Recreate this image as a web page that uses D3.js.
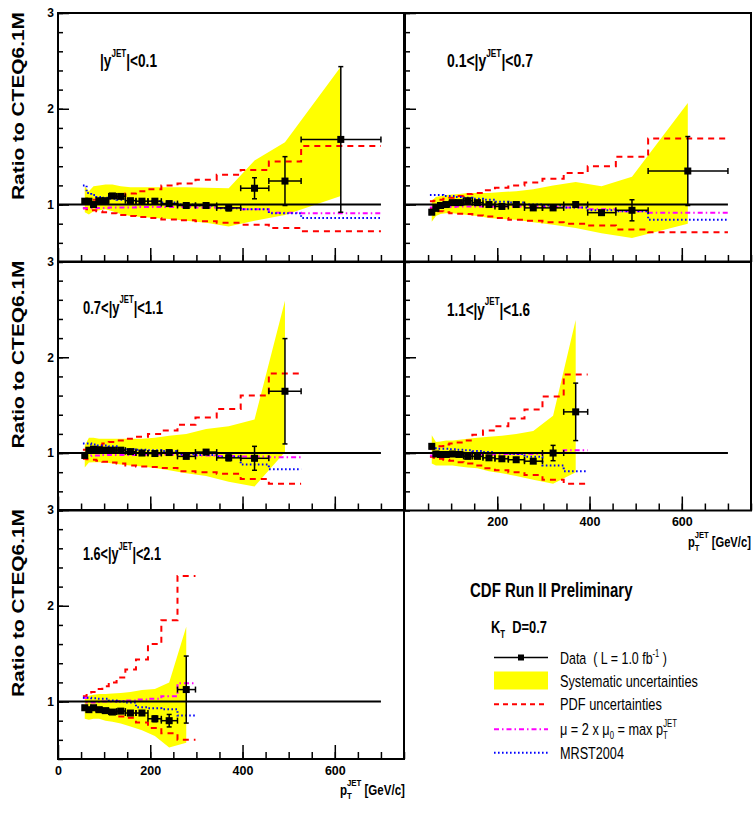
<!DOCTYPE html>
<html><head><meta charset="utf-8">
<script src="https://cdn.jsdelivr.net/npm/d3@7"></script>
<style>body{margin:0;background:#fff}</style>
</head><body>
<svg id="c" width="753" height="813"></svg>
<script>
// ---------- DATA ----------
const binEdges=[54,62,72,83,96,110,127,146,169,195,224,259,298,344,396,457,527,700];
const binCenters=[58,67,77,89,103,118,136,157,182,210,241,278,321,370,426,492,613];
const xTickMajor=[0,200,400,600];
const yTickMajor=[1,2,3];

// |y|<0.1
const p1Ratio=[1.035,1.035,1.0,1.04,1.04,1.09,1.085,1.04,1.035,1.035,1.01,0.99,0.99,0.965,1.17,1.245,1.68];
const p1Stat=[0.006,0.006,0.006,0.006,0.006,0.006,0.007,0.008,0.009,0.01,0.012,0.015,0.02,0.03,0.11,0.255,0.76];
const p1SysUp=[1.19,1.14,1.19,1.20,1.21,1.21,1.19,1.18,1.18,1.18,1.18,1.18,1.175,1.17,1.46,1.65,2.44];
const p1SysLo=[0.92,0.895,0.93,0.94,0.95,0.93,0.90,0.88,0.87,0.86,0.85,0.83,0.81,0.77,0.83,0.89,1.09];
const p1PdfUp=[1.04,1.04,1.05,1.05,1.06,1.07,1.09,1.115,1.14,1.16,1.20,1.22,1.26,1.31,1.36,1.45,1.61];
const p1PdfLo=[0.96,0.95,0.94,0.93,0.92,0.91,0.89,0.88,0.87,0.86,0.845,0.835,0.825,0.81,0.79,0.755,0.72];
const p1Mu=[0.96,0.96,0.96,0.965,0.965,0.97,0.97,0.97,0.975,0.975,0.975,0.975,0.97,0.965,0.95,0.915,0.91];
const p1Mrst=[1.20,1.12,1.10,1.08,1.07,1.06,1.05,1.05,1.04,1.035,1.02,1.0,0.99,0.96,0.95,0.91,0.86];

// 0.1<|y|<0.7
const p2Ratio=[0.92,0.96,0.99,1.0,1.02,1.02,1.04,1.02,1.0,0.98,1.0,0.965,0.965,1.0,0.915,0.94,1.35];
const p2Stat=[0.006,0.006,0.006,0.006,0.006,0.006,0.007,0.008,0.009,0.01,0.012,0.015,0.02,0.025,0.02,0.11,0.36];
const p2SysUp=[1.04,1.08,1.09,1.10,1.105,1.11,1.12,1.12,1.12,1.13,1.14,1.16,1.20,1.235,1.19,1.29,2.06];
const p2SysLo=[0.82,0.88,0.90,0.91,0.91,0.90,0.89,0.88,0.86,0.85,0.84,0.815,0.79,0.755,0.70,0.65,0.80];
const p2PdfUp=[1.035,1.04,1.05,1.06,1.07,1.09,1.11,1.12,1.15,1.175,1.20,1.23,1.27,1.33,1.40,1.50,1.69];
const p2PdfLo=[0.965,0.95,0.93,0.92,0.91,0.905,0.90,0.885,0.875,0.86,0.84,0.83,0.815,0.80,0.78,0.74,0.71];
const p2Mu=[0.97,0.97,0.97,0.975,0.975,0.98,0.98,0.98,0.98,0.98,0.98,0.98,0.975,0.97,0.95,0.93,0.915];
const p2Mrst=[1.10,1.10,1.10,1.09,1.09,1.08,1.07,1.06,1.05,1.03,1.02,1.0,0.99,0.97,0.94,0.93,0.84];

// 0.7<|y|<1.1
const p3Ratio=[0.975,1.03,1.04,1.035,1.03,1.03,1.03,1.015,1.0,0.995,1.005,0.965,1.01,0.95,0.945,1.645];
const p3Stat=[0.006,0.006,0.006,0.006,0.006,0.006,0.007,0.008,0.009,0.01,0.012,0.015,0.02,0.03,0.125,0.55];
const p3SysUp=[1.08,1.16,1.16,1.15,1.15,1.15,1.15,1.15,1.15,1.16,1.18,1.20,1.25,1.28,1.35,2.59];
const p3SysLo=[0.85,0.90,0.905,0.905,0.90,0.89,0.88,0.87,0.86,0.845,0.82,0.79,0.76,0.70,0.65,1.01];
const p3PdfUp=[1.035,1.04,1.06,1.08,1.10,1.115,1.13,1.15,1.17,1.20,1.235,1.295,1.37,1.46,1.60,1.83];
const p3PdfLo=[0.94,0.935,0.93,0.92,0.91,0.90,0.89,0.87,0.86,0.855,0.845,0.81,0.80,0.785,0.73,0.68];
const p3Mu=[0.97,0.97,0.975,0.975,0.98,0.98,0.98,0.98,0.985,0.985,0.985,0.98,0.975,0.97,0.965,0.955];
const p3Mrst=[1.10,1.10,1.09,1.08,1.08,1.07,1.05,1.04,1.035,1.03,1.02,0.99,0.98,0.96,0.88,0.83];

// 1.1<|y|<1.6
const p4Ratio=[1.07,0.99,0.985,0.985,0.99,0.985,0.965,0.965,0.95,0.94,0.93,0.915,1.0,1.43];
const p4Stat=[0.006,0.006,0.006,0.006,0.006,0.007,0.008,0.009,0.01,0.012,0.015,0.02,0.08,0.30];
const p4SysUp=[1.185,1.115,1.12,1.13,1.13,1.14,1.15,1.16,1.17,1.18,1.20,1.23,1.39,2.39];
const p4SysLo=[0.89,0.87,0.87,0.87,0.87,0.86,0.85,0.84,0.81,0.79,0.76,0.72,0.68,0.80];
const p4PdfUp=[1.045,1.06,1.07,1.09,1.10,1.11,1.13,1.19,1.235,1.28,1.36,1.455,1.59,1.82];
const p4PdfLo=[0.96,0.95,0.94,0.93,0.92,0.905,0.89,0.87,0.84,0.82,0.80,0.77,0.72,0.68];
const p4Mu=[0.975,0.975,0.975,0.98,0.98,0.98,0.98,0.985,0.985,0.99,0.99,0.99,1.0,1.03];
const p4Mrst=[1.08,1.05,1.045,1.045,1.04,1.035,1.03,1.02,1.01,1.0,0.99,0.96,0.87,0.81];

// 1.6<|y|<2.1
const p5Ratio=[0.935,0.915,0.935,0.915,0.905,0.89,0.90,0.88,0.88,0.82,0.80,1.125];
const p5Stat=[0.006,0.006,0.006,0.006,0.007,0.008,0.01,0.012,0.02,0.03,0.065,0.35];
const p5SysUp=[1.03,1.06,1.07,1.08,1.08,1.085,1.09,1.10,1.12,1.13,1.20,1.78];
const p5SysLo=[0.82,0.81,0.82,0.82,0.80,0.79,0.77,0.74,0.70,0.64,0.52,0.57];
const p5PdfUp=[1.055,1.08,1.10,1.13,1.16,1.20,1.25,1.335,1.44,1.60,1.85,2.31];
const p5PdfLo=[0.935,0.93,0.92,0.90,0.89,0.88,0.845,0.83,0.78,0.725,0.67,0.60];
const p5Mu=[1.04,0.99,0.99,0.995,1.0,1.0,1.005,1.01,1.02,1.03,1.055,1.19];
const p5Mrst=[1.04,1.04,1.035,1.03,1.03,1.01,1.0,0.99,0.94,0.93,0.92,0.855];

const panelLabels=[["|y","JET","|<0.1"],["0.1<|y","JET","|<0.7"],["0.7<|y","JET","|<1.1"],["1.1<|y","JET","|<1.6"],["1.6<|y","JET","|<2.1"]];

// ---------- LAYOUT ----------
const FB='"Liberation Sans",Arial,Helvetica,sans-serif';
const colX=[58,405], rowY=[13,261.5,510], PW=346, PH=249;
const svg=d3.select("#c");

// text squeezed horizontally to a target width (Helvetica-Narrow look)
function fitText(x,y,w,build,opts={}){
  const g=svg.append("g").attr("transform",`translate(${x},${y})`);
  const t=g.append("text").attr("x",0).attr("y",0).attr("font-family",FB)
    .attr("font-weight",opts.bold?"bold":"normal").attr("font-size",opts.size||16).attr("fill","#000");
  if(opts.anchor) t.attr("text-anchor",opts.anchor);
  build(t);
  const bw=t.node().getBBox().width;
  t.attr("transform",`scale(${w/bw},1)`);
  return t;
}

const panels=[
 {c:0,r:0,ratio:p1Ratio,stat:p1Stat,su:p1SysUp,sl:p1SysLo,pu:p1PdfUp,pl:p1PdfLo,mu:p1Mu,mr:p1Mrst,lab:panelLabels[0],lx:42,ly:54,lw:57,yl:true,xl:false},
 {c:1,r:0,ratio:p2Ratio,stat:p2Stat,su:p2SysUp,sl:p2SysLo,pu:p2PdfUp,pl:p2PdfLo,mu:p2Mu,mr:p2Mrst,lab:panelLabels[1],lx:42,ly:54,lw:86,yl:false,xl:false},
 {c:0,r:1,ratio:p3Ratio,stat:p3Stat,su:p3SysUp,sl:p3SysLo,pu:p3PdfUp,pl:p3PdfLo,mu:p3Mu,mr:p3Mrst,lab:panelLabels[2],lx:25,ly:52,lw:80,yl:true,xl:false},
 {c:1,r:1,ratio:p4Ratio,stat:p4Stat,su:p4SysUp,sl:p4SysLo,pu:p4PdfUp,pl:p4PdfLo,mu:p4Mu,mr:p4Mrst,lab:panelLabels[3],lx:42,ly:54,lw:83,yl:false,xl:true},
 {c:0,r:2,ratio:p5Ratio,stat:p5Stat,su:p5SysUp,sl:p5SysLo,pu:p5PdfUp,pl:p5PdfLo,mu:p5Mu,mr:p5Mrst,lab:panelLabels[4],lx:25,ly:50,lw:78,yl:true,xl:true}
];

panels.forEach(p=>{
  const x0=colX[p.c], y0=rowY[p.r];
  const x=d3.scaleLinear().domain([0,750]).range([x0,x0+PW]);
  const y=d3.scaleLinear().domain([0.4,3]).range([y0+PH,y0]);
  const n=p.ratio.length;
  const idx=d3.range(n);
  const g=svg.append("g");
  // systematic band
  const area=d3.area().x(i=>x(binCenters[i])).y0(i=>y(p.sl[i])).y1(i=>y(p.su[i]));
  g.append("path").attr("d",area(idx)).attr("fill","#ffff00").attr("stroke","none");
  // step lines
  const stepPts=vals=>{const a=[];vals.forEach((v,i)=>{a.push([binEdges[i],v]);a.push([binEdges[i+1],v]);});return a;};
  const line=d3.line().x(d=>x(d[0])).y(d=>y(d[1]));
  [[p.pu,"#ff0000","6,5",2],[p.pl,"#ff0000","6,5",2],[p.mu,"#ff00ff","5,3,1.5,3",2],[p.mr,"#0000ff","1.6,2.4",2]].forEach(([v,col,da,w])=>{
    g.append("path").attr("d",line(stepPts(v))).attr("fill","none").attr("stroke",col).attr("stroke-width",w).attr("stroke-dasharray",da);
  });
  // y=1 line
  g.append("line").attr("x1",x(0)).attr("x2",x(700)).attr("y1",y(1)).attr("y2",y(1)).attr("stroke","#000").attr("stroke-width",2);
  // data error bars
  const eg=g.append("g").attr("stroke","#000").attr("stroke-width",1.5);
  idx.forEach(i=>{
    const cx=x(binCenters[i]), cy=y(p.ratio[i]);
    const xa=x(binEdges[i]), xb=x(binEdges[i+1]);
    const ya=y(p.ratio[i]+p.stat[i]), yb=y(p.ratio[i]-p.stat[i]);
    eg.append("line").attr("x1",xa).attr("x2",xb).attr("y1",cy).attr("y2",cy);
    eg.append("line").attr("x1",xa).attr("x2",xa).attr("y1",cy-3).attr("y2",cy+3);
    eg.append("line").attr("x1",xb).attr("x2",xb).attr("y1",cy-3).attr("y2",cy+3);
    eg.append("line").attr("x1",cx).attr("x2",cx).attr("y1",ya).attr("y2",yb);
    eg.append("line").attr("x1",cx-2.5).attr("x2",cx+2.5).attr("y1",ya).attr("y2",ya);
    eg.append("line").attr("x1",cx-2.5).attr("x2",cx+2.5).attr("y1",yb).attr("y2",yb);
  });
  g.selectAll("rect.m").data(idx).join("rect").attr("class","m")
    .attr("x",i=>x(binCenters[i])-3.5).attr("y",i=>y(p.ratio[i])-3.5).attr("width",7).attr("height",7).attr("fill","#000");
  // axes
  const yMinor=d3.axisLeft(y).tickValues(d3.range(0.4,3.01,0.2).map(v=>+v.toFixed(1))).tickSizeInner(-5).tickSizeOuter(0).tickFormat("");
  const ya=g.append("g").attr("transform",`translate(${x0},0)`).call(yMinor);
  ya.select(".domain").remove();
  const yMaj=d3.axisLeft(y).tickValues(yTickMajor).tickSizeInner(-11).tickSizeOuter(0).tickPadding(4).tickFormat(p.yl?d3.format("d"):"");
  const yb=g.append("g").attr("transform",`translate(${x0},0)`).call(yMaj);
  yb.select(".domain").remove();
  yb.selectAll("text").attr("font-family",FB).attr("font-weight","bold").attr("font-size",12).attr("fill","#000");
  const xMinor=d3.axisBottom(x).tickValues(d3.range(50,751,50)).tickSizeInner(-7).tickSizeOuter(0).tickFormat("");
  const xa2=g.append("g").attr("transform",`translate(0,${y0+PH})`).call(xMinor);
  xa2.select(".domain").remove();
  const xTicks=p.c===0?xTickMajor:xTickMajor.filter(v=>v>0);
  const xMaj=d3.axisBottom(x).tickValues(xTicks).tickSizeInner(-14).tickSizeOuter(0).tickPadding(7).tickFormat(p.xl?d3.format("d"):"");
  const xb2=g.append("g").attr("transform",`translate(0,${y0+PH})`).call(xMaj);
  xb2.select(".domain").remove();
  xb2.selectAll("text").attr("font-family",FB).attr("font-weight","bold").attr("font-size",12.5).attr("fill","#000");
  g.selectAll(".tick line").attr("stroke","#000").attr("stroke-width",1.5);
  // frame
  g.append("rect").attr("x",x0).attr("y",y0).attr("width",PW).attr("height",PH).attr("fill","none").attr("stroke","#000").attr("stroke-width",2);
  // panel label
  fitText(x0+p.lx,y0+p.ly,p.lw,t=>{
    t.append("tspan").text(p.lab[0]);
    t.append("tspan").attr("dy",-10.5).attr("font-size",11).text(p.lab[1]);
    t.append("tspan").attr("dy",10.5).text(p.lab[2]);
  },{bold:true,size:18.5});
  // y title
  if(p.c===0){
    svg.append("text").attr("transform",`translate(24,${y0-1}) rotate(-90)`).attr("text-anchor","end")
      .attr("font-family",FB).attr("font-weight","bold").attr("font-size",16).attr("fill","#000")
      .attr("textLength",188).attr("lengthAdjust","spacingAndGlyphs").text("Ratio to CTEQ6.1M");
  }
});

// x axis titles
function ptTitle(xl,yb,w){
  fitText(xl,yb,w,t=>{
    t.append("tspan").text("p");
    t.append("tspan").attr("dy",4).attr("font-size",9.5).text("T");
    t.append("tspan").attr("dy",-13).attr("dx",-6).attr("font-size",9.5).text("JET");
    t.append("tspan").attr("dy",9).text(" [GeV/c]");
  },{bold:true,size:14});
}
ptTitle(340,795,65);
ptTitle(688,547,63);

// ---------- LEGEND ----------
fitText(470,597,163,t=>t.text("CDF Run II Preliminary"),{bold:true,size:20.5});
fitText(491,633,56,t=>{
  t.append("tspan").text("K");
  t.append("tspan").attr("dy",5).attr("font-size",10).text("T");
  t.append("tspan").attr("dy",-5).text("\u00a0\u00a0D=0.7");
},{bold:true,size:16.5});

const legX0=494, legX1=548, legTX=560;
const legRows=[657.5,680.5,704.3,729.3,752.7];
svg.append("line").attr("x1",legX0).attr("x2",legX1).attr("y1",legRows[0]).attr("y2",legRows[0]).attr("stroke","#000").attr("stroke-width",1.5);
svg.append("rect").attr("x",(legX0+legX1)/2-3).attr("y",legRows[0]-3).attr("width",6).attr("height",6).attr("fill","#000");
svg.append("rect").attr("x",legX0).attr("y",legRows[1]-9).attr("width",legX1-legX0).attr("height",18).attr("fill","#ffff00");
svg.append("line").attr("x1",legX0).attr("x2",legX1).attr("y1",legRows[2]).attr("y2",legRows[2]).attr("stroke","#ff0000").attr("stroke-width",2).attr("stroke-dasharray","5,4");
svg.append("line").attr("x1",legX0).attr("x2",legX1).attr("y1",legRows[3]).attr("y2",legRows[3]).attr("stroke","#ff00ff").attr("stroke-width",2).attr("stroke-dasharray","5,3,1.5,3");
svg.append("line").attr("x1",legX0).attr("x2",legX1).attr("y1",legRows[4]).attr("y2",legRows[4]).attr("stroke","#0000ff").attr("stroke-width",2).attr("stroke-dasharray","1.6,2.4");

const legW=[107,138,102,117,64];
function legText(row,build){return fitText(legTX,legRows[row]+6,legW[row],build,{size:16.5});}
legText(0,t=>{
  t.append("tspan").text("Data\u00a0\u00a0( L = 1.0 fb");
  t.append("tspan").attr("dy",-7).attr("font-size",10).text("-1");
  t.append("tspan").attr("dy",7).text(" )");
});
legText(1,t=>t.text("Systematic uncertainties"));
legText(2,t=>t.text("PDF uncertainties"));
legText(3,t=>{
  t.append("tspan").text("\u03bc = 2 x \u03bc");
  t.append("tspan").attr("dy",4).attr("font-size",10).text("0");
  t.append("tspan").attr("dy",-4).text(" = max p");
  t.append("tspan").attr("dy",4).attr("font-size",10).text("T");
  t.append("tspan").attr("dy",-12).attr("dx",-6).attr("font-size",10).text("JET");
});
legText(4,t=>t.text("MRST2004"));
</script>
</body></html>
